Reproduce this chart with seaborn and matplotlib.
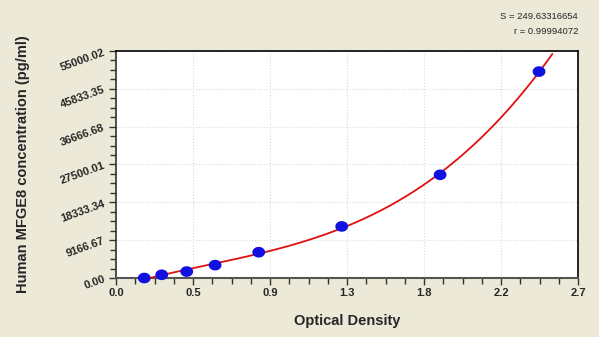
import numpy as np
import pandas as pd
import matplotlib
matplotlib.use("Agg")
import matplotlib.pyplot as plt
import seaborn as sns
from matplotlib.ticker import AutoMinorLocator

# Data
od = [0.165, 0.267, 0.413, 0.579, 0.834, 1.319, 1.894, 2.472]
conc = [0.0, 781.25, 1562.5, 3125.0, 6250.0, 12500.0, 25000.0, 50000.0]
x_tick_labels = ["0.0", "0.5", "0.9", "1.3", "1.8", "2.2", "2.7"]
y_tick_labels = ["0.00", "9166.67", "18333.34", "27500.01", "36666.68", "45833.35", "55000.02"]
stats_text = ["S = 249.63316654", "r = 0.99994072"]

df = pd.DataFrame({"od": od, "conc": conc})

# Fitted curve (cubic polynomial through the standards)
coef = np.polyfit(df["od"], df["conc"], 3)
xs = np.linspace(min(od), 2.55, 200)
fit = pd.DataFrame({"od": xs, "conc": np.polyval(coef, xs)})

sns.set_theme(style="white")
plt.rcParams["font.family"] = ["Liberation Sans", "DejaVu Sans"]

bg = "#ECE9D8"
fig = plt.figure(figsize=(5.99, 3.37), dpi=100, facecolor=bg)
ax = fig.add_axes([0.1937, 0.175, 0.7713, 0.6738])
ax.set_facecolor("white")

xmax = 2.7
ymax = 55000.02
ax.set_xlim(0, xmax)
ax.set_ylim(0, ymax)

xt = np.linspace(0, xmax, len(x_tick_labels))
yt = np.linspace(0, ymax, len(y_tick_labels))
ax.set_xticks(xt)
ax.set_xticklabels(x_tick_labels, fontsize=8, fontweight="bold")
ax.set_yticks(yt)
ax.set_yticklabels(y_tick_labels, fontsize=8, fontweight="bold", rotation=20)
ax.xaxis.set_minor_locator(AutoMinorLocator(4))
ax.yaxis.set_minor_locator(AutoMinorLocator(4))

ax.grid(True, which="major", color="#D9D9D9", linestyle=":", linewidth=0.8)
ax.tick_params(axis="both", which="major", direction="out", length=5, width=1,
               color="#333333", bottom=True, left=True, pad=2)
ax.tick_params(axis="both", which="minor", direction="out", length=4, width=1,
               color="#333333", bottom=True, left=True)

sns.lineplot(data=fit, x="od", y="conc", ax=ax, color="#E01010", linewidth=1.3,
             clip_on=False, zorder=3)

t = np.linspace(0, 2 * np.pi, 40)
ell = np.column_stack([np.cos(t) * 1.2, np.sin(t)])
sns.scatterplot(data=df, x="od", y="conc", ax=ax, marker=ell, s=85,
                color="#1010E0", edgecolor="none", zorder=4, clip_on=False)

for s in ["top", "right"]:
    ax.spines[s].set_color("black")
    ax.spines[s].set_linewidth(1.2)
ax.spines["left"].set_color("#333333")
ax.spines["bottom"].set_color("#555555")
ax.spines["left"].set_linewidth(1.2)
ax.spines["bottom"].set_linewidth(1.5)

ax.set_xlabel("Optical Density", fontsize=10.5, fontweight="bold", labelpad=12)
ax.set_ylabel("Human MFGE8 concentration (pg/ml)", fontsize=10.5, fontweight="bold", labelpad=21)

fig.text(0.965, 0.95, stats_text[0], ha="right", va="center", fontsize=6.8)
fig.text(0.965, 0.908, stats_text[1], ha="right", va="center", fontsize=6.8)

fig.savefig("out.png", dpi=100, facecolor=bg)
